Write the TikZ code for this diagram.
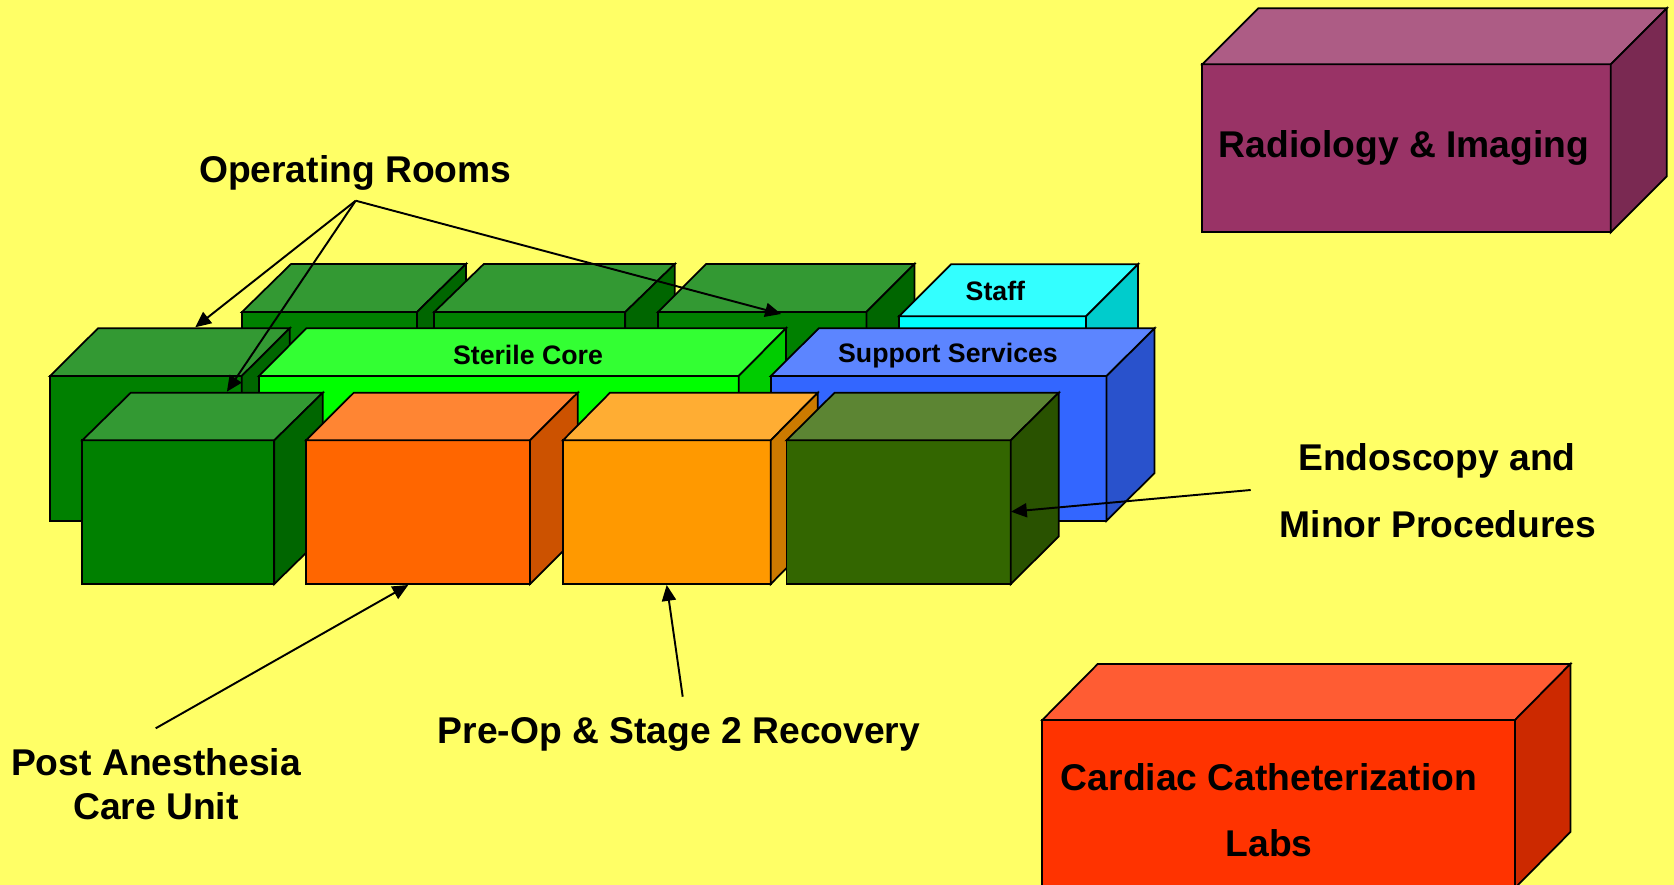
\documentclass[tikz,border=0pt]{standalone}
\usepackage{fontspec}
\setmainfont{Liberation Sans}
\usetikzlibrary{arrows.meta}
\definecolor{bgyellow}{HTML}{FFFF66}
\definecolor{orgreen}{HTML}{008000}
\definecolor{sterilegreen}{HTML}{00FF00}
\definecolor{supportblue}{HTML}{3366FF}
\definecolor{staffcyan}{HTML}{00FFFF}
\definecolor{pacuorange}{HTML}{FF6600}
\definecolor{preoporange}{HTML}{FF9900}
\definecolor{endoolive}{HTML}{336600}
\definecolor{radiomagenta}{HTML}{993366}
\definecolor{cardiored}{HTML}{FF3300}
\newcommand{\mycuboid}[7]{%
  \filldraw[boxline, fill=#7] (#1,#2) rectangle ({#1+#3},{#2+#4});
  \filldraw[boxline, fill=#7!80!white] (#1,#2) -- ++(#5,-#6) -- ++(#3,0) -- ({#1+#3},#2) -- cycle;
  \filldraw[boxline, fill=#7!80!black] ({#1+#3},#2) -- ++(#5,-#6) -- ++(0,#4) -- ({#1+#3},{#2+#4}) -- cycle;
}
\tikzset{
  boxline/.style={draw=black, line width=1pt},
  biglabel/.style={inner sep=0pt, anchor=base, font=\bfseries\fontsize{21.2}{25}\selectfont},
  smalllabel/.style={inner sep=0pt, anchor=base, font=\bfseries\fontsize{15.2}{18}\selectfont},
  pointer/.style={draw=black, line width=1.1pt, -{Triangle[length=9pt,width=8pt]}}
}
\begin{document}
\begin{tikzpicture}[x=0.02cm, y=-0.02cm]
\useasboundingbox (0,0) rectangle (1674,885);
\clip (0,0) rectangle (1674,885);
\fill[bgyellow] (0,0) rectangle (1674,885);
% back row
\mycuboid{242}{312}{175}{145}{49}{48}{orgreen}
\mycuboid{434.3}{312}{191}{145}{49.5}{48}{orgreen}
\mycuboid{658.1}{312}{208.3}{145}{48}{48}{orgreen}
\mycuboid{899}{316.3}{187}{140}{52}{52}{staffcyan}
% middle row
\mycuboid{50}{376}{191.7}{144.7}{48}{47.7}{orgreen}
\mycuboid{259}{376}{479.7}{144.7}{47.3}{47.7}{sterilegreen}
\mycuboid{770.8}{376}{335.8}{144.7}{48}{47.7}{supportblue}
% front row
\mycuboid{82.3}{440.3}{192}{143.7}{48.5}{47.6}{orgreen}
\mycuboid{306}{440.3}{224}{143.7}{47.8}{47.6}{pacuorange}
\mycuboid{563}{440.3}{207.8}{143.7}{47}{47.6}{preoporange}
\mycuboid{786.6}{440.3}{224.2}{143.7}{48}{47.6}{endoolive}
% separate departments
\mycuboid{1202.3}{64.3}{408.4}{168}{56}{56}{radiomagenta}
\mycuboid{1042.3}{720}{472.7}{168}{55.4}{56}{cardiored}
% labels on boxes
\node[smalllabel] (staff) at (995.4,300) {Staff};
\node[smalllabel] (sterile) at (528,364) {Sterile Core};
\node[smalllabel] (support) at (948,362) {Support Services};
\node[biglabel] (radio) at (1404,157.3) {Radiology \& Imaging};
\node[biglabel] (cardiac1) at (1269,790) {Cardiac Catheterization};
\node[biglabel] (cardiac2) at (1269,856.7) {Labs};
% callout labels
\node[biglabel] (orlabel) at (355.3,182.3) {Operating Rooms};
\node[biglabel] (endo1) at (1437,470) {Endoscopy and};
\node[biglabel] (endo2) at (1438,537.4) {Minor Procedures};
\node[biglabel] (preop) at (679,743.5) {Pre-Op \& Stage 2 Recovery};
\node[biglabel] (pacu1) at (156,775.5) {Post Anesthesia};
\node[biglabel] (pacu2) at (156,819.3) {Care Unit};
% connector anchors
\coordinate (orsrc) at (355.7,200.7);
\coordinate (orA) at (195.2,327.3);
\coordinate (orB) at (226.9,391.7);
\coordinate (orC) at (781,314);
\coordinate (pacusrc) at (155.7,728.3);
\coordinate (pacutip) at (408.3,585);
\coordinate (preopsrc) at (682.7,696.7);
\coordinate (preoptip) at (666.7,585);
\coordinate (endosrc) at (1250.7,490);
\coordinate (endotip) at (1011,511.7);
% connectors
\draw[pointer] (orsrc) -- (orA);
\draw[pointer] (orsrc) -- (orB);
\draw[pointer] (orsrc) -- (orC);
\draw[pointer] (pacusrc) -- (pacutip);
\draw[pointer] (preopsrc) -- (preoptip);
\draw[pointer] (endosrc) -- (endotip);
\end{tikzpicture}
\end{document}
